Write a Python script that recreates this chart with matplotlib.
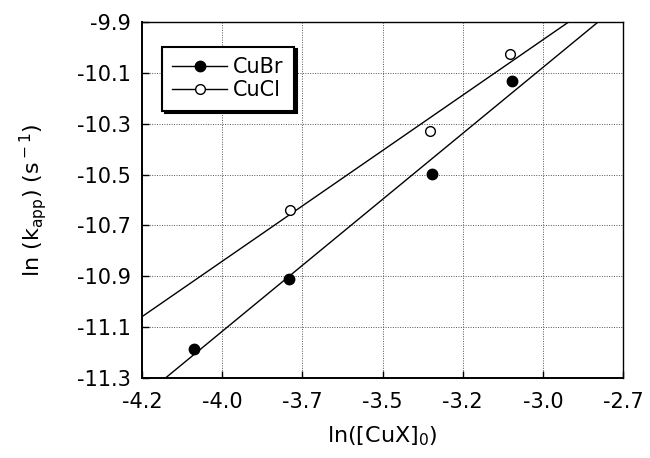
import numpy as np
import matplotlib
matplotlib.use("Agg")
import matplotlib.pyplot as plt

# ln([CuX]0) and ln(k_app) for each copper halide
cubr_x = [-4.038, -3.742, -3.297, -3.047]
cubr_y = [-11.186, -10.911, -10.497, -10.133]
cucl_x = [-3.739, -3.302, -3.052]
cucl_y = [-10.639, -10.327, -10.027]

x_ticks = [-4.2, -3.95, -3.7, -3.45, -3.2, -2.95, -2.7]
x_tick_labels = ["-4.2", "-4.0", "-3.7", "-3.5", "-3.2", "-3.0", "-2.7"]
y_ticks = [-11.3, -11.1, -10.9, -10.7, -10.5, -10.3, -10.1, -9.9]
y_tick_labels = ["-11.3", "-11.1", "-10.9", "-10.7", "-10.5", "-10.3", "-10.1", "-9.9"]

plt.rcParams["font.family"] = ["DejaVu Sans"]

fig = plt.figure(figsize=(6.5, 4.58), dpi=100)
ax = fig.add_axes([0.2185, 0.1747, 0.74, 0.7773])

xlim = (-4.2, -2.7)
ylim = (-11.3, -9.9)
xx = np.array(xlim)

# least-squares lines through each series
for xs, ys in ((cubr_x, cubr_y), (cucl_x, cucl_y)):
    m, b = np.polyfit(xs, ys, 1)
    ax.plot(xx, m * xx + b, color="black", lw=1.0, zorder=2)

ax.plot(cubr_x, cubr_y, "o", ms=7.5, mfc="black", mec="black", zorder=3)
ax.plot(cucl_x, cucl_y, "o", ms=7, mfc="white", mec="black", mew=1.0, zorder=3)

# legend handles
h1, = ax.plot([], [], "-o", color="black", lw=1.0, ms=7.5, mfc="black")
h2, = ax.plot([], [], "-o", color="black", lw=1.0, ms=7, mfc="white")
leg = ax.legend([h1, h2], ["CuBr", "CuCl"], loc="upper left",
                bbox_to_anchor=(0.02, 0.96), fontsize=15, frameon=True,
                fancybox=False, handlelength=2.6, handletextpad=0.3,
                labelspacing=0.15, borderpad=0.5,
                shadow={"color": "black", "alpha": 1.0})
leg.get_frame().set_edgecolor("black")
leg.get_frame().set_linewidth(1.5)

ax.set_xlim(*xlim)
ax.set_ylim(*ylim)
ax.set_xticks(x_ticks)
ax.set_xticklabels(x_tick_labels)
ax.set_yticks(y_ticks)
ax.set_yticklabels(y_tick_labels)
ax.tick_params(direction="in", length=5, width=1.0, labelsize=15,
               top=False, right=False)
ax.tick_params(axis="x", pad=10)
ax.tick_params(axis="y", pad=8)

ax.grid(True, linestyle=(0, (1, 1.5)), color="#555555", lw=0.7)

for side in ("left", "bottom"):
    ax.spines[side].set_linewidth(1.4)
for side in ("top", "right"):
    ax.spines[side].set_linewidth(1.0)

ax.set_xlabel(r"ln([CuX]$_0$)", fontsize=16, labelpad=9)
ax.set_ylabel(r"ln (k$_{\rm app}$) (s$^{\rm -1}$)", fontsize=16, labelpad=20)

fig.savefig("out.png", dpi=100)
